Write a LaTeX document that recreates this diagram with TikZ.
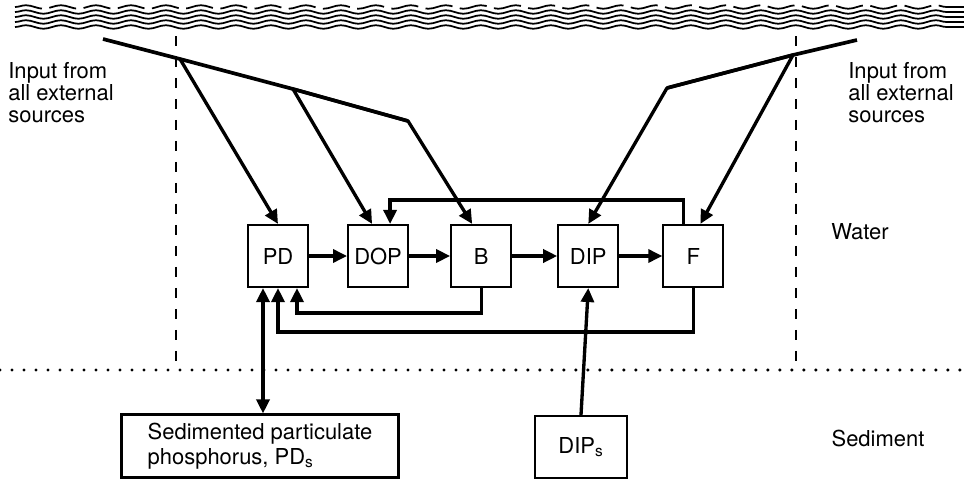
\documentclass[tikz,border=0pt]{standalone}
\usepackage{fontspec}
\setmainfont{TeX Gyre Heros}
\usepackage{tikz}
\usetikzlibrary{arrows.meta, positioning, decorations.pathmorphing}

\begin{document}
\begin{tikzpicture}[
  x=0.02cm, y=-0.02cm,
  font=\fontsize{12.5}{14}\selectfont,
  box/.style={draw, line width=1.2pt, align=center, minimum width=1.2cm, minimum height=1.24cm},
  sedbox/.style={draw, line width=1.2pt, align=left, minimum width=5.54cm, minimum height=1.26cm},
  arrow/.style={-{Triangle[length=0.28cm, width=0.26cm]}, line width=1.9pt},
  flow/.style={line width=2.1pt, line join=round},
  wave/.style={line width=1pt, decorate, decoration={snake, segment length=0.7cm, amplitude=0.035cm}},
  border/.style={line width=0.8pt, dash pattern=on 0.2cm off 0.22cm},
  label/.style={align=left, anchor=north west, inner xsep=0pt, font=\fontsize{12.5}{12.5}\selectfont}
]
\useasboundingbox (0,0) rectangle (964,480);

% surface and boundaries
\draw[wave, dash pattern=on 0.55cm off 0.15cm] (15,7) -- (964,7);
\foreach \y in {12,17,22,27}
  \draw[wave] (15,\y) -- (964,\y);
\draw[border] (176,36) -- (176,370);
\draw[border] (796,36) -- (796,370);
\draw[line width=1.9pt, line cap=round, dash pattern=on 0pt off 0.24cm] (0,370) -- (964,370);

\node[box] (pd) at (278,256) {PD};
\node[box, right=0.76cm of pd] (dop) {DOP};
\node[box, right=0.82cm of dop] (b) {B};
\node[box, right=0.9cm of b] (dip) {DIP};
\node[box, right=0.86cm of dip] (f) {F};
\node[sedbox] (sed) at (260,446) {Sedimented particulate\\phosphorus, PD\textsubscript{s}};
\node[box, minimum width=1.84cm] (dips) at (581,447) {DIP\textsubscript{s}};

\node[label] (inleft) at (8,56) {Input from\\all external\\sources};
\node[label] (inright) at (848,56) {Input from\\all external\\sources};
\node (water) at (860,232) {Water};
\node (sediment) at (878,438) {Sediment};

\coordinate (ina) at (103,39);
\coordinate (ina1) at (180,59);
\coordinate (ina2) at (293,89);
\coordinate (ina3) at (408,121);
\coordinate (inb) at (857,40);
\coordinate (inb1) at (793,55);
\coordinate (inb2) at (667,88);

\draw[flow] (ina) -- (ina1) -- (ina2) -- (ina3);
\draw[arrow] (ina1) -- (pd.north);
\draw[arrow] (ina2) -- ([xshift=-0.12cm]dop.north);
\draw[arrow, line join=round] (ina2) -- (ina3) -- ([xshift=-0.18cm]b.north);
\draw[flow] (inb) -- (inb1) -- (inb2);
\draw[arrow, line join=round] (inb1) -- (inb2) -- (dip.north);
\draw[arrow] (inb1) -- ([xshift=0.14cm]f.north);

\draw[arrow] (pd) -- (dop);
\draw[arrow] (dop) -- (b);
\draw[arrow] (b) -- (dip);
\draw[arrow] (dip) -- (f);

\draw[arrow] ([xshift=-0.2cm]f.north) -- ++(0,-24) -| ([xshift=0.24cm]dop.north);
\draw[arrow] (b.south) -- ++(0,25) -| ([xshift=0.38cm]pd.south);
\draw[arrow] (f.south) -- ++(0,44) -| (pd.south);

\coordinate (pdl) at ([xshift=-0.3cm]pd.south);
\draw[arrow, {Triangle[length=0.28cm, width=0.26cm]}-{Triangle[length=0.28cm, width=0.26cm]}] (pdl) -- (pdl |- sed.north);
\draw[arrow] (dips.north) -- (dip.south);
\end{tikzpicture}
\end{document}
